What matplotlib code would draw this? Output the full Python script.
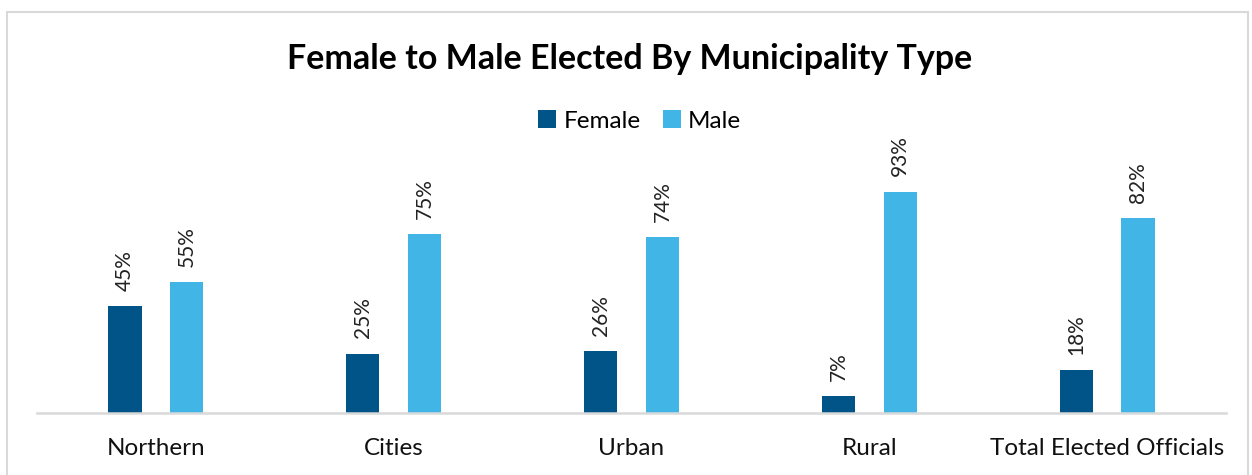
import matplotlib.pyplot as plt
import numpy as np
from matplotlib.patches import Rectangle

plt.rcParams['font.family'] = ['Lato', 'DejaVu Sans']

categories = ['Northern', 'Cities', 'Urban', 'Rural', 'Total Elected Officials']
female = [45, 25, 26, 7, 18]
male = [55, 75, 74, 93, 82]

female_color = '#005488'
male_color = '#41B6E6'

fig = plt.figure(figsize=(12.52, 4.75), dpi=100)
ax = fig.add_axes([37/1252, 62/475, 1189/1252, 238/475])

x = np.arange(len(categories))
w = 0.14
off = 0.13
b1 = ax.bar(x - off, female, w, color=female_color, label='Female')
b2 = ax.bar(x + off, male, w, color=male_color, label='Male')

# rotated value labels above each bar
for bars, vals in [(b1, female), (b2, male)]:
    for bar, v in zip(bars, vals):
        ax.annotate(f'{v}%', (bar.get_x() + bar.get_width()/2, v),
                    xytext=(0, 11), textcoords='offset points',
                    rotation=90, ha='center', va='bottom', fontsize=15,
                    color='#222222', clip_on=False)

ax.set_xlim(-0.5, len(categories) - 0.5)
ax.set_ylim(0, 100)
ax.set_xticks(x)
ax.set_xticklabels(categories, fontsize=17.5, color='#111111')
ax.tick_params(axis='x', length=0, pad=18)
ax.set_yticks([])
for s in ['top', 'right', 'left']:
    ax.spines[s].set_visible(False)
ax.spines['bottom'].set_color('#D9D9D9')
ax.spines['bottom'].set_linewidth(1.8)

fig.text(0.503, 1 - 59/475, 'Female to Male Elected By Municipality Type',
         ha='center', va='center', fontsize=24.5, fontweight='bold', color='#000000')

fig.legend(handles=[b1, b2], loc='center', bbox_to_anchor=(0.511, 1 - 121/475),
           ncol=2, frameon=False, fontsize=17.5, handlelength=0.75, handleheight=0.75,
           handletextpad=0.3, columnspacing=0.9)

# chart border
fig.patches.append(Rectangle((7/1252, -0.05), 1241/1252, 1 - 12/475 + 0.05,
                             transform=fig.transFigure, fill=False,
                             edgecolor='#D9D9D9', linewidth=1.5))

fig.savefig('out.png', dpi=100)
